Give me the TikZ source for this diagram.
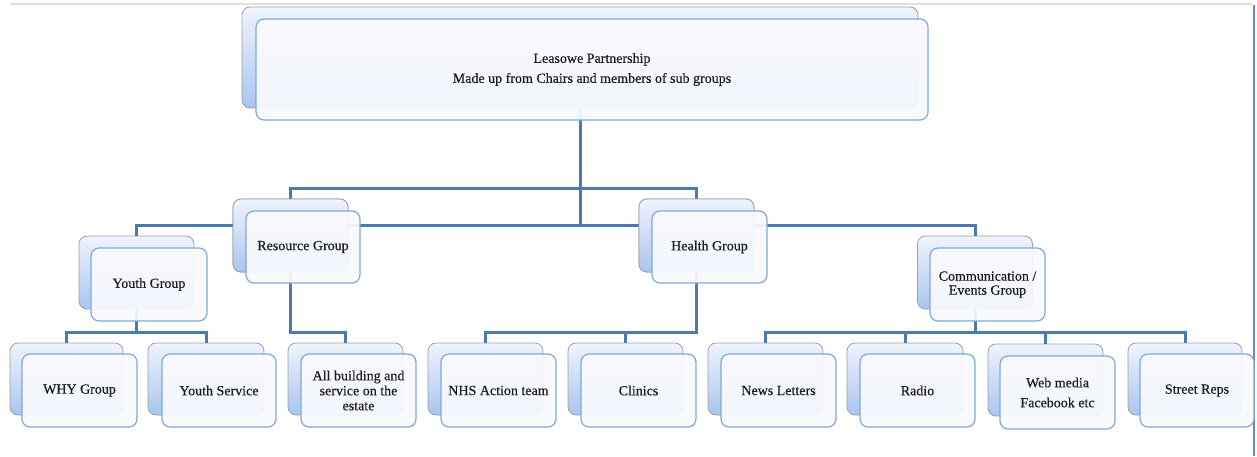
\documentclass[tikz,border=0pt]{standalone}
\usepackage{fontspec}
\setmainfont{Liberation Serif}[FakeBold=0.35]
\usetikzlibrary{calc}
\definecolor{connc}{HTML}{4A7BAF}
\definecolor{backtop}{HTML}{F0F4FD}
\definecolor{backbot}{HTML}{A9C5F0}
\definecolor{backdraw}{HTML}{9A9EA6}
\definecolor{frontfill}{HTML}{F9FAFE}
\definecolor{frontdraw}{HTML}{7FA8DA}
\definecolor{txt}{HTML}{1A1A1A}
\tikzset{
  conn/.style={draw=connc, line width=3pt, line join=miter},
  backbox/.style={rectangle, rounded corners=8pt, draw=backdraw, line width=0.8pt,
    top color=backtop, bottom color=backbot, inner sep=0pt},
  frontbox/.style={rectangle, rounded corners=8pt, draw=frontdraw, line width=1.2pt,
    fill=frontfill, fill opacity=0.93, text opacity=1, text=txt, inner sep=0pt,
    align=center, font=\fontsize{14}{15}\selectfont},
}
\begin{document}
\begin{tikzpicture}[x=1pt, y=-1pt]
\useasboundingbox (0,0) rectangle (1257,456);
% page artefacts
\draw[gray!25, line width=2.5pt] (10,4) -- (1252,4);
\draw[frontdraw!80!blue, line width=2pt] (1254,5) -- (1254,456);

\coordinate (busA) at (0,188);
\coordinate (busB) at (0,225);
\coordinate (busC) at (0,332);

% ---------- back boxes ----------
\path
 node[backbox, minimum width=676pt, minimum height=101pt] (topB) at (580,57.5) {}
 node[backbox, minimum width=115pt, minimum height=73pt] (rgB) at (290.5,235.5) {}
 node[backbox, minimum width=115pt, minimum height=73pt] (hgB) at (696.5,235.5) {}
 node[backbox, minimum width=115pt, minimum height=73pt] (ygB) at (136.5,272.5) {}
 node[backbox, minimum width=115pt, minimum height=73pt] (cgB) at (975,272.5) {}
 node[backbox, minimum width=113pt, minimum height=72pt] (whyB) at (66.5,379) {}
 node[backbox, minimum width=116pt, minimum height=72pt] (ysB) at (206,379) {}
 node[backbox, minimum width=115pt, minimum height=72pt] (allB) at (345.5,379) {}
 node[backbox, minimum width=115pt, minimum height=72pt] (nhsB) at (485.5,379) {}
 node[backbox, minimum width=115pt, minimum height=72pt] (clB) at (625.5,379) {}
 node[backbox, minimum width=115pt, minimum height=72pt] (nlB) at (765.5,379) {}
 node[backbox, minimum width=116pt, minimum height=72pt] (raB) at (905,379) {}
 node[backbox, minimum width=115pt, minimum height=72pt] (wmB) at (1045.5,380) {}
 node[backbox, minimum width=114pt, minimum height=72pt] (srB) at (1185,379) {};

% ---------- connectors ----------
\draw[conn] (topB.south) -- (topB.south |- busB);
\draw[conn] (rgB.north) -- (rgB.north |- busA) -| (hgB.north);
\draw[conn] (ygB.north) -- (ygB.north |- busB) -| (cgB.north);
\draw[conn] (ygB.south) -- (ygB.south |- busC);
\draw[conn] (whyB.north) -- (whyB.north |- busC) -| (ysB.north);
\draw[conn] (rgB.south) -- (rgB.south |- busC) -| (allB.north);
\draw[conn] (hgB.south) |- (nhsB.north |- busC) -- (nhsB.north);
\draw[conn] (clB.north) -- (clB.north |- busC);
\draw[conn] (cgB.south) -- (cgB.south |- busC);
\draw[conn] (nlB.north) -- (nlB.north |- busC) -| (srB.north);
\draw[conn] (raB.north) -- (raB.north |- busC);
\draw[conn] (wmB.north) -- (wmB.north |- busC);

% back boxes that lie over the bus line
\path
 node[backbox, minimum width=115pt, minimum height=73pt] at (rgB) {}
 node[backbox, minimum width=115pt, minimum height=73pt] at (hgB) {};

% ---------- front boxes ----------
\node[frontbox, minimum width=672pt, minimum height=101pt, font=\fontsize{14}{20}\selectfont] (top) at (592,69.5)
  {Leasowe Partnership\\ Made up from Chairs and members of sub groups};
\node[frontbox, minimum width=114pt, minimum height=72pt] (rg) at (303,247) {Resource Group};
\node[frontbox, minimum width=115pt, minimum height=72pt] (hg) at (709.5,247) {Health Group};
\node[frontbox, minimum width=116pt, minimum height=73pt] (yg) at (149,284.5) {Youth Group};
\node[frontbox, minimum width=115pt, minimum height=73pt, font=\fontsize{14}{14}\selectfont] (cg) at (987.5,284.5) {Communication /\\ Events Group};
\node[frontbox, minimum width=115pt, minimum height=73pt] (why) at (79.5,390.5) {WHY Group};
\node[frontbox, minimum width=114pt, minimum height=73pt] (ys) at (219,390.5) {Youth Service};
\node[frontbox, minimum width=115pt, minimum height=73pt, font=\fontsize{14}{15}\selectfont] (all) at (358.5,390.5) {All building and\\ service on the\\ estate};
\node[frontbox, minimum width=115pt, minimum height=73pt] (nhs) at (498.5,390.5) {NHS Action team};
\node[frontbox, minimum width=115pt, minimum height=73pt] (cl) at (638.5,390.5) {Clinics};
\node[frontbox, minimum width=115pt, minimum height=73pt] (nl) at (778.5,390.5) {News Letters};
\node[frontbox, minimum width=115pt, minimum height=73pt] (ra) at (917.5,390.5) {Radio};
\node[frontbox, minimum width=115pt, minimum height=73pt, font=\fontsize{14}{20}\selectfont] (wm) at (1057.5,392.5) {Web media\\ Facebook etc};
\node[frontbox, minimum width=114pt, minimum height=73pt] (sr) at (1197,390.5) {Street Reps};
\end{tikzpicture}
\end{document}
